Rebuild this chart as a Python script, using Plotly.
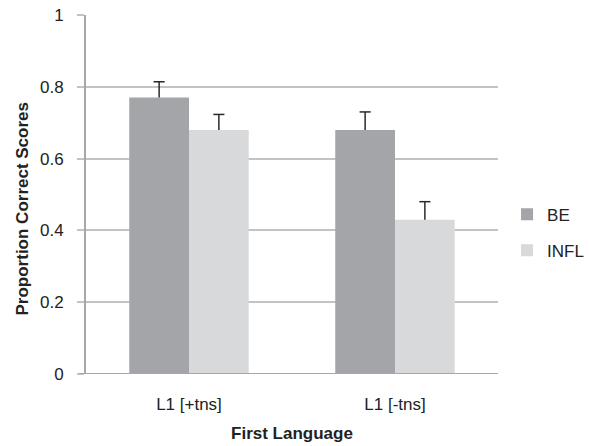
import plotly.graph_objects as go

# Proportion of correct scores by first language and morpheme type
categories = ["L1 [+tns]", "L1 [-tns]"]
be_values = [0.77, 0.68]
be_errors = [0.044, 0.05]
infl_values = [0.68, 0.43]
infl_errors = [0.043, 0.05]
y_ticks = [0, 0.2, 0.4, 0.6, 0.8, 1]

FONT = "Arial, 'Liberation Sans', Helvetica, sans-serif"
GRID = "#c3c3c3"
AXIS = "#a6a7a9"
TEXT = "#222222"

BAR_W = 0.29      # width of one bar, in category units
CAP_HALF = 0.027  # half width of an error-bar cap, in category units

positions = list(range(len(categories)))
series = [
    ("BE", be_values, be_errors, "#a4a5a8", -BAR_W / 2),
    ("INFL", infl_values, infl_errors, "#d8d9db", BAR_W / 2),
]

fig = go.Figure()
for name, vals, errs, color, shift in series:
    fig.add_trace(go.Bar(
        x=positions, y=vals, name=name, legendgroup=name,
        width=BAR_W, offset=shift - BAR_W / 2,
        marker=dict(color=color, line=dict(width=0)),
    ))

# upper-only error bars: a stem from the bar top and a cap at the end
for name, vals, errs, color, shift in series:
    ex, ey = [], []
    for p, v, e in zip(positions, vals, errs):
        xc = p + shift
        ex += [xc, xc, None, xc - CAP_HALF, xc + CAP_HALF, None]
        ey += [v, v + e, None, v + e, v + e, None]
    fig.add_trace(go.Scatter(
        x=ex, y=ey, mode="lines", showlegend=False, hoverinfo="skip",
        line=dict(color="#2a2a2a", width=1.5),
    ))

fig.update_layout(
    width=589, height=446,
    margin=dict(l=86, r=91, t=15, b=72, autoexpand=False),
    paper_bgcolor="white", plot_bgcolor="white",
    barmode="overlay",
    font=dict(family=FONT, size=17, color=TEXT),
    showlegend=True,
    legend=dict(x=1.022, y=0.494, xanchor="left", yanchor="top",
                itemwidth=30, tracegroupgap=11, bgcolor="rgba(0,0,0,0)",
                font=dict(size=17, color=TEXT)),
    xaxis=dict(
        range=[-0.5, len(categories) - 0.5],
        tickvals=positions, ticktext=categories,
        showgrid=False, ticks="", showline=False, zeroline=False,
        automargin=False, ticklabelstandoff=18,
        title=dict(text="<b>First Language</b>", font=dict(size=17), standoff=14),
    ),
    yaxis=dict(
        range=[0, 1], tickvals=y_ticks, ticktext=[f"{v:g}" for v in y_ticks],
        showgrid=True, gridcolor=GRID, gridwidth=1.5,
        ticks="outside", ticklen=7, tickcolor=GRID, tickwidth=1.5,
        showline=True, linecolor=AXIS, linewidth=2,
        zeroline=False, automargin=False, ticklabelstandoff=10,
    ),
    annotations=[dict(
        text="<b>Proportion Correct Scores</b>", textangle=-90,
        xref="paper", yref="paper", x=(21.5 - 86) / 412, y=(374 - 209) / 359,
        xanchor="center", yanchor="middle", showarrow=False,
        font=dict(size=17, family=FONT, color=TEXT),
    )],
    shapes=[dict(type="line", xref="paper", yref="y", x0=-7 / 412, x1=1, y0=0, y1=0,
                 line=dict(color=AXIS, width=2), layer="above")],
)

fig.write_html("out.html")
